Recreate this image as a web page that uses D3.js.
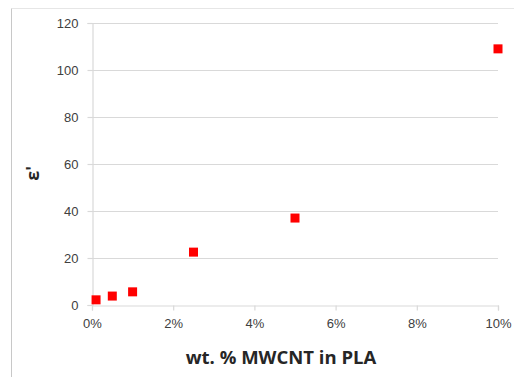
<!DOCTYPE html>
<html>
<head>
<meta charset="utf-8">
<script src="https://cdn.jsdelivr.net/npm/d3@7"></script>
<style>
  body { margin: 0; background: #fff; }
  svg { display: block; font-family: "Open Sans", "Liberation Sans", sans-serif; }
</style>
</head>
<body>
<div id="chart"></div>
<script>
// wt. fraction of MWCNT (percent) and the measured permittivity
var loading = [0.1, 0.5, 1, 2.5, 5, 10]
var permittivity = [2.2, 3.8, 5.6, 22.5, 37, 109]
var yTicks = [0, 20, 40, 60, 80, 100, 120]
var xTicks = [0, 2, 4, 6, 8, 10]

var width = 514
var height = 377
var margin = {top: 23, right: 16, bottom: 72, left: 92}

var svg = d3.select("#chart")
  .append("svg")
    .attr("width", width)
    .attr("height", height)

// outer chart frame (only top and left edges show)
svg.append("line")
    .attr("x1", 11.5).attr("x2", width)
    .attr("y1", 8.5).attr("y2", 8.5)
    .attr("stroke", "#e6e6e6")
svg.append("line")
    .attr("x1", 11.5).attr("x2", 11.5)
    .attr("y1", 8.5).attr("y2", height)
    .attr("stroke", "#c8c8c8")

var x = d3.scaleLinear()
  .domain([0, 10])
  .range([margin.left, width - margin.right])

var y = d3.scaleLinear()
  .domain([0, 120])
  .range([height - margin.bottom, margin.top])

// gridlines
svg.append("g")
  .selectAll("line")
  .data(yTicks.slice(1))
  .enter()
  .append("line")
    .attr("x1", x(0))
    .attr("x2", x(10))
    .attr("y1", function(d){ return Math.round(y(d)) + 0.5 })
    .attr("y2", function(d){ return Math.round(y(d)) + 0.5 })
    .attr("stroke", "#d9d9d9")
    .attr("stroke-width", 1.2)

// y axis
var yAxis = svg.append("g")
    .attr("transform", "translate(" + (Math.round(x(0)) + 0.5) + ",0)")
    .call(d3.axisLeft(y).tickValues(yTicks).tickSize(5).tickPadding(9))
yAxis.selectAll("path, line").attr("stroke", "#d9d9d9").attr("stroke-width", 1.2)
yAxis.selectAll("text").style("font-size", "13px").attr("fill", "#404040")

// x axis
var xAxis = svg.append("g")
    .attr("transform", "translate(0," + (Math.round(y(0)) + 0.5) + ")")
    .call(d3.axisBottom(x).tickValues(xTicks).tickSize(5).tickPadding(8)
      .tickFormat(function(d){ return d + "%" }))
xAxis.selectAll("path, line").attr("stroke", "#d9d9d9").attr("stroke-width", 1.2)
xAxis.selectAll("text").style("font-size", "13px").attr("fill", "#404040")

// markers
var s = 9
svg.append("g")
  .selectAll("rect")
  .data(loading)
  .enter()
  .append("rect")
    .attr("x", function(d){ return x(d) - s / 2 })
    .attr("y", function(d, i){ return y(permittivity[i]) - s / 2 })
    .attr("width", s)
    .attr("height", s)
    .attr("fill", "#ff0000")

// axis titles
svg.append("text")
    .attr("x", 281)
    .attr("y", 364)
    .attr("text-anchor", "middle")
    .style("font-size", "18.5px")
    .style("font-weight", "bold")
    .attr("fill", "#262626")
    .text("wt. % MWCNT in PLA")

svg.append("text")
    .attr("transform", "translate(39," + y(56) + ") rotate(-90)")
    .attr("text-anchor", "middle")
    .style("font-size", "18px")
    .style("font-weight", "bold")
    .attr("fill", "#262626")
    .text("ε'")
</script>
</body>
</html>
